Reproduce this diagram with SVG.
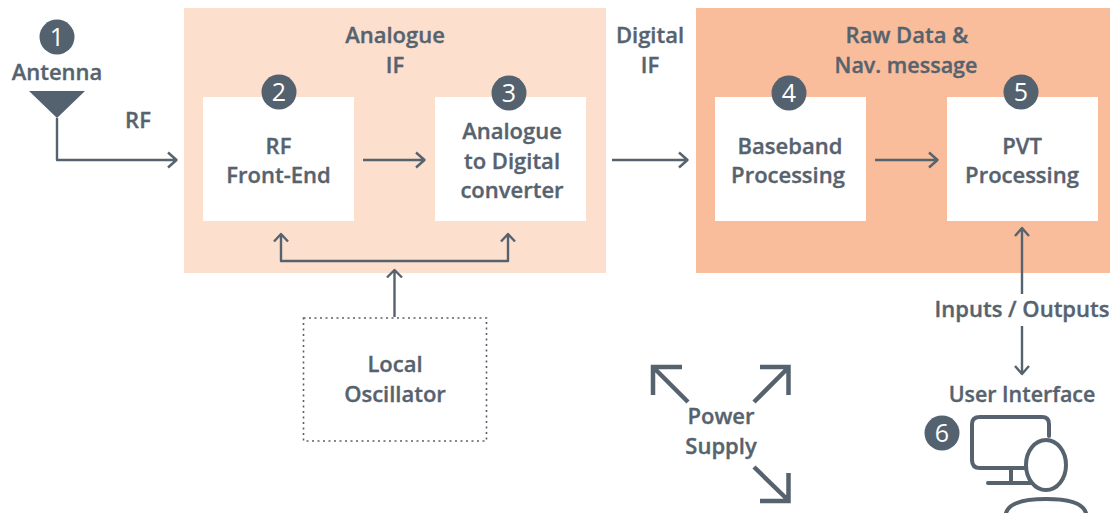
<svg xmlns="http://www.w3.org/2000/svg" width="1110" height="513" viewBox="0 0 1110 513">
<defs>
<style>
.t{font-family:"Open Sans","Noto Sans","Liberation Sans",sans-serif;font-weight:600;font-size:22px;fill:#56636f;stroke:#56636f;stroke-width:.35px;text-anchor:middle}
.s{font-size:21.400px}
.n{font-family:"Open Sans","Noto Sans","Liberation Sans",sans-serif;font-weight:400;font-size:25px;fill:#fff;text-anchor:middle}
.c{fill:#54616e}
.w{fill:#fff}
.l{fill:none;stroke:#56636f;stroke-width:2.400;stroke-linejoin:round}
.p{fill:none;stroke:#56636f;stroke-width:4.500}
.u{fill:none;stroke:#56636f;stroke-width:4;stroke-linecap:round}
</style>
</defs>
<rect x="0" y="0" width="1110" height="513" fill="#fff"/>
<g id="analogue-if"><rect x="184" y="8" width="422" height="265" fill="#fddfce"/>
<text class="t" x="395" y="43">Analogue</text><text class="t" x="395" y="73">IF</text></g>
<g id="raw-data"><rect x="696" y="8" width="414" height="265" fill="#f9bd9b"/>
<text class="t" x="907" y="43">Raw Data &amp;</text><text class="t" x="906" y="73" style="font-size:21.500px">Nav. message</text></g>
<g id="digital-if"><text class="t" x="650" y="43">Digital</text><text class="t" x="650" y="73">IF</text></g>
<g id="rf-label"><text class="t" x="138" y="128">RF</text></g>
<g id="io-label"><text class="t" x="1022" y="317">Inputs / Outputs</text></g>
<g id="connectors">
<path class="l" d="M57 118V160H176M168 152.500L176.500 160L168 167.500"/>
<path class="l" d="M363 160H425M416 152.500L424.500 160L416 167.500"/>
<path class="l" d="M612 160H688M679 152.500L687.500 160L679 167.500"/>
<path class="l" d="M875 160H937M929 152.500L937.500 160L929 167.500"/>
<path class="l" d="M281 235V261H508V235M274 241.500L281 234L288 241.500M501 241.500L508 234L515 241.500"/>
<path class="l" d="M394.500 317V270M387 277.500L394.500 270L402 277.500"/>
<path class="l" d="M1022 228V294M1015 236L1022 228L1029 236"/>
<path class="l" d="M1022 326V374M1015 366L1022 374L1029 366"/>
</g>
<g id="node-1"><circle class="c" cx="57" cy="37" r="17.500"/><text class="n" x="57" y="46">1</text>
<text class="t" x="57" y="80">Antenna</text><polygon class="c" points="29,91 85,91 57,118"/></g>
<g id="node-2"><rect class="w" x="203" y="97" width="151" height="124"/><circle class="c" cx="279" cy="92" r="17.500"/><text class="n" x="279" y="101">2</text>
<text class="t" x="278.500" y="154">RF</text><text class="t" x="278.500" y="183">Front-End</text></g>
<g id="node-3"><rect class="w" x="435" y="97" width="151" height="124"/><circle class="c" cx="509" cy="93" r="17.500"/><text class="n" x="509" y="102">3</text>
<text class="t" x="512" y="139">Analogue</text><text class="t" x="512" y="169">to Digital</text><text class="t" x="512" y="198">converter</text></g>
<g id="node-4"><rect class="w" x="715" y="97" width="151" height="124"/><circle class="c" cx="789" cy="93" r="17.500"/><text class="n" x="789" y="102">4</text>
<text class="t" x="790" y="154">Baseband</text><text class="t" x="788" y="183">Processing</text></g>
<g id="node-5"><rect class="w" x="947" y="97" width="151" height="124"/><circle class="c" cx="1021" cy="92" r="17.500"/><text class="n" x="1021" y="101">5</text>
<text class="t" x="1022" y="154">PVT</text><text class="t" x="1022" y="183">Processing</text></g>
<g id="local-oscillator"><rect x="303.500" y="318" width="183" height="123" fill="#fff" stroke="#56636f" stroke-width="1.600" stroke-dasharray="2 3.500"/>
<text class="t" x="395" y="372">Local</text><text class="t" x="395" y="402">Oscillator</text></g>
<g id="power-supply">
<text class="t" x="721" y="424">Power</text><text class="t" x="721" y="454">Supply</text>
<path class="p" d="M653 395V367H682M654 368L688 402"/>
<path class="p" d="M760 367H788.500V395M788 368L754 402"/>
<path class="p" d="M788.500 473V501H760M788 500L754 467"/>
</g>
<g id="node-6"><circle class="c" cx="942" cy="433" r="17.500"/><text class="n" x="942" y="442">6</text>
<text class="t s" x="1022" y="402">User Interface</text>
<path class="u" d="M1049 436V424Q1049 417 1042 417H980Q972 417 972 424V460Q972 468 980 468H1027"/>
<path class="u" d="M1011 469V483M988 483H1031"/>
<ellipse cx="1046" cy="465" rx="20" ry="25" fill="#fff" stroke="#56636f" stroke-width="4"/>
<path class="u" d="M1006 513Q1010 499 1046 499Q1082 499 1086 513"/>
</g>
</svg>
